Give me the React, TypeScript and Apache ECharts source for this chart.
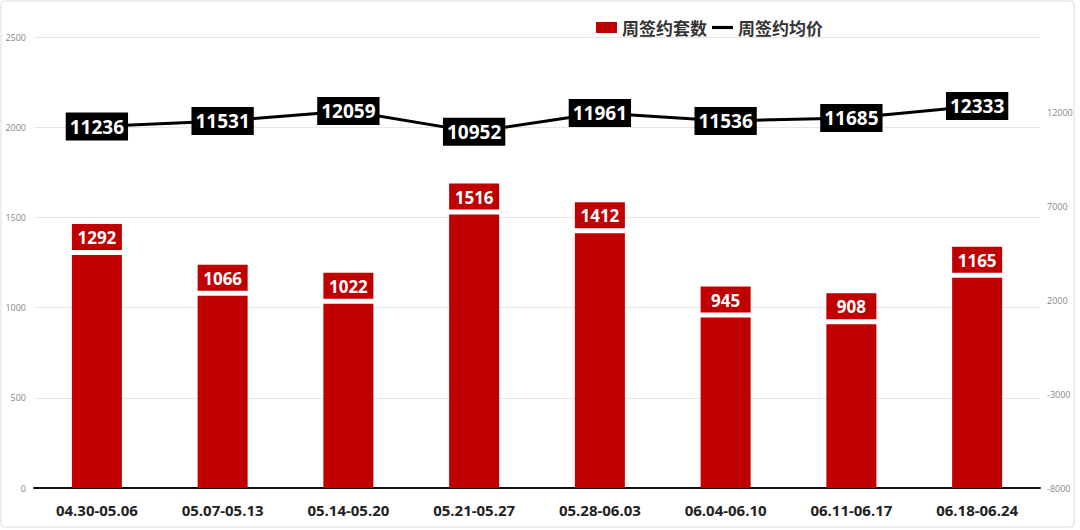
import { useEffect, useRef } from 'react';
import * as echarts from 'echarts';

const weeks = [
  '04.30-05.06',
  '05.07-05.13',
  '05.14-05.20',
  '05.21-05.27',
  '05.28-06.03',
  '06.04-06.10',
  '06.11-06.17',
  '06.18-06.24',
];
const deals = [1292, 1066, 1022, 1516, 1412, 945, 908, 1165];
const avgPrice = [11236, 11531, 12059, 10952, 11961, 11536, 11685, 12333];

const FONT = '"Open Sans", "Noto Sans CJK SC", sans-serif';

export default function App() {
  const box = useRef<HTMLDivElement>(null);

  useEffect(() => {
    if (!box.current) return;
    const chart = echarts.init(box.current, null, { renderer: 'svg' });
    chart.setOption({
      animation: false,
      textStyle: { fontFamily: FONT },
      graphic: [
        {
          type: 'rect',
          shape: { x: 1, y: 1, width: 1073, height: 526, r: 4 },
          style: { fill: 'none', stroke: '#dcdcdc', lineWidth: 1 },
          silent: true,
        },
      ],
      legend: {
        top: 14,
        left: 591,
        itemWidth: 21,
        itemHeight: 11,
        itemGap: 5,
        textStyle: {
          fontFamily: '"Noto Sans CJK SC", sans-serif',
          fontSize: 17,
          fontWeight: 'bold',
          color: '#333',
        },
        data: [
          { name: '周签约套数', icon: 'rect' },
          { name: '周签约均价', icon: 'path://M0,0 L20,0 L20,3 L0,3 Z' },
        ],
      },
      grid: { left: 34, right: 40, top: 37, bottom: 42 },
      xAxis: {
        type: 'category',
        data: weeks,
        axisLine: { lineStyle: { color: '#111', width: 2 } },
        axisTick: { show: false },
        axisLabel: {
          margin: 14,
          fontSize: 15,
          fontWeight: 'bold',
          color: '#222',
          fontFamily: FONT,
        },
      },
      yAxis: [
        {
          type: 'value',
          min: 0,
          max: 2500,
          interval: 500,
          axisLine: { show: false },
          axisTick: { show: false },
          axisLabel: { fontSize: 9, color: '#888', margin: 8, formatter: (v: number) => String(v) },
          splitLine: { lineStyle: { color: '#e6e6e6' } },
        },
        {
          type: 'value',
          min: -8000,
          max: 16000,
          interval: 5000,
          axisLine: { show: false },
          axisTick: { show: false },
          axisLabel: {
            fontSize: 9,
            color: '#888',
            margin: 7,
            showMaxLabel: false,
            formatter: (v: number) => String(v),
          },
          splitLine: { show: false },
        },
      ],
      series: [
        {
          name: '周签约套数',
          type: 'bar',
          data: deals,
          barWidth: 50,
          itemStyle: { color: '#c00000' },
          label: {
            show: true,
            position: 'top',
            distance: 5,
            color: '#fff',
            fontSize: 17,
            fontWeight: 'bold',
            fontFamily: FONT,
            backgroundColor: '#c00000',
            width: 42,
            align: 'center',
            padding: [5, 4, 4, 4],
          },
        },
        {
          name: '周签约均价',
          type: 'line',
          yAxisIndex: 1,
          data: avgPrice,
          symbol: 'circle',
          symbolSize: 1,
          lineStyle: { color: '#000', width: 3 },
          itemStyle: { color: '#000' },
          z: 5,
          label: {
            show: true,
            position: 'inside',
            color: '#fff',
            fontSize: 19,
            fontWeight: 'bold',
            fontFamily: FONT,
            backgroundColor: '#000',
            padding: [5, 4, 4, 4],
          },
        },
      ],
    });
    return () => chart.dispose();
  }, []);

  return (
    <div
      ref={box}
      style={{ position: 'fixed', left: 0, top: 0, width: 1080, height: 530, background: '#fff' }}
    />
  );
}
